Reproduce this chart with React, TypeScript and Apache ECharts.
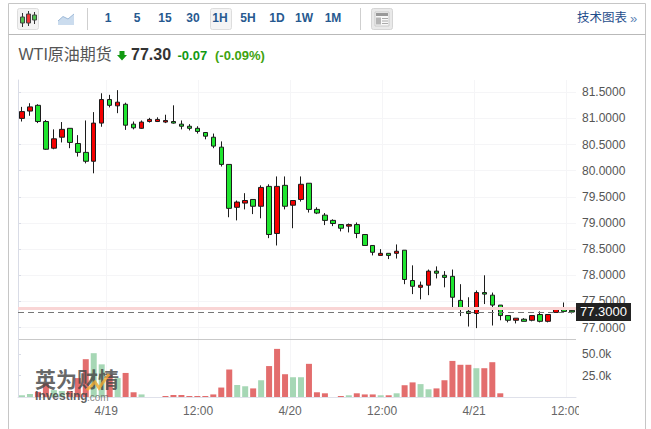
import React, { useEffect, useRef } from "react";
import * as echarts from "echarts";

const opens = [81.00,81.14,81.25,80.94,80.43,80.64,80.81,80.52,80.35,80.18,80.91,81.36,81.24,81.27,80.89,80.81,80.94,80.94,80.93,80.94,80.89,80.85,80.81,80.73,80.64,80.45,80.12,79.30,79.38,79.45,79.32,79.70,78.80,79.72,79.34,79.45,79.76,79.26,79.15,79.05,78.97,78.94,78.97,78.78,78.57,78.38,78.42,78.42,78.48,77.90,77.77,77.81,78.08,78.00,77.98,77.52,77.31,77.27,77.67,77.62,77.43,77.23,77.14,77.16,77.14,77.25,77.12,77.29,77.35,77.33];
const closes = [81.13,81.22,80.94,80.41,80.61,80.79,80.54,80.35,80.18,80.91,81.36,81.25,81.31,80.87,80.82,80.93,80.98,80.98,80.96,80.91,80.85,80.81,80.75,80.66,80.47,80.12,79.28,79.40,79.43,79.32,79.68,78.78,79.70,79.32,79.43,79.74,79.26,79.19,79.05,78.99,78.90,78.97,78.80,78.57,78.44,78.42,78.38,78.46,77.92,77.79,77.81,78.08,78.04,77.96,77.58,77.35,77.27,77.67,77.64,77.43,77.23,77.14,77.18,77.12,77.23,77.12,77.25,77.35,77.31,77.30];
const lows = [80.94,81.05,80.91,80.40,80.41,80.54,80.43,80.27,80.14,79.95,80.84,81.21,81.10,80.78,80.79,80.80,80.92,80.93,80.91,80.90,80.79,80.77,80.71,80.60,80.43,80.08,79.11,79.05,79.26,79.17,79.09,78.71,78.57,79.26,78.90,79.41,79.20,79.17,78.96,78.94,78.84,78.82,78.71,78.57,78.38,78.38,78.31,78.32,77.83,77.64,77.54,77.62,77.94,77.77,77.35,77.22,77.02,76.99,77.45,77.04,77.14,77.10,77.08,77.12,77.12,77.10,77.10,77.29,77.31,77.27];
const highs = [81.22,81.29,81.27,80.97,80.79,80.93,80.81,80.68,80.96,81.12,81.48,81.45,81.54,81.30,80.94,80.96,81.01,81.02,81.07,81.25,80.96,80.89,80.85,80.73,80.71,80.56,80.12,79.43,79.57,79.45,79.72,79.74,79.89,79.89,79.43,79.89,79.76,79.30,79.19,79.07,78.97,78.99,79.01,78.78,78.57,78.50,78.42,78.59,78.48,78.19,77.88,78.11,78.17,78.08,78.11,77.83,77.58,77.71,78.00,77.67,77.43,77.23,77.18,77.18,77.23,77.31,77.25,77.37,77.48,77.37];
const volumes = [2,3.5,6,16,8,7,7,22,44,51,38,26,22,28,5.5,3,0,0,1.2,2.3,2.3,1.2,1.2,1.2,3,11,32,14,12.5,10,19.5,36,56,26.5,23,23,38.6,5.5,4.3,0,1.2,2,4.3,3,3,2,2,4.3,13.7,17,15,9,10,19.5,42,37.5,37.5,33.5,33.5,40.5,4.3,0,0,0,0,0,0,0,0,0];
const greenVolumeBars = [0,1,4,5,9,10,12,15,27,28,30,34,35,41,45,47,50,51,57];
const priceTicks = [77,77.5,78,78.5,79,79.5,80,80.5,81,81.5];
const volumeTicks = [25,50];
const timeTickHours = [11.5,23.5,35.5,47.5,59.5,71.5];
const timeTickLabels = ["4/19","12:00","4/20","12:00","4/21","12:00"];
const lastPrice = 77.30;
const previousClose = 77.37;
const intervals = [["1",108],["5",137],["15",165],["30",193],["1H",220],["5H",248],["1D",277],["1W",304],["1M",333]] as const;

const FONT = '"Liberation Sans", Arial, "Noto Sans CJK SC", sans-serif';
const CAT = opens.map((_, i) => String(i));
const GRID_LINE = "#f5f5f7";
const BLUE = "#27598f";

function text(x: number, y: number, t: string, style: any, extra: any = {}) {
  return { type: "text", x, y, z: 50, silent: true, style: { text: t, fontFamily: FONT, verticalAlign: "middle", ...style }, ...extra };
}
function rect(x: number, y: number, w: number, h: number, style: any, extra: any = {}) {
  return { type: "rect", z: 40, silent: true, shape: { x, y, width: w, height: h, ...(extra.shape || {}) }, style, ...(extra.z ? { z: extra.z } : {}) };
}
function line(x1: number, y1: number, x2: number, y2: number, stroke: string, lineWidth = 1) {
  return { type: "line", z: 40, silent: true, shape: { x1, y1, x2, y2 }, style: { stroke, lineWidth } };
}

const elements: any[] = [
  line(8.5, 3.5, 645.5, 3.5, "#c6c6c6"),
  line(8.5, 3.5, 8.5, 429, "#c6c6c6"),
  line(645.5, 3.5, 645.5, 429, "#c6c6c6"),
  line(8.5, 34.5, 645.5, 34.5, "#b9b9b9"),
  line(87.5, 8, 87.5, 30, "#cfcfcf"),
  line(360.5, 8, 360.5, 30, "#cfcfcf"),
  rect(17.5, 8.5, 21, 21, { fill: "#f3f3f3", stroke: "#dddddd" }, { shape: { r: 2 } }),
  line(22.5, 13, 22.5, 27, "#333"),
  line(28.5, 11, 28.5, 26, "#333"),
  line(34.5, 12, 34.5, 24, "#333"),
  rect(20.5, 17, 4, 6, { fill: "#4fc04f", stroke: "#444" }),
  rect(26.5, 14, 4, 9, { fill: "#e33", stroke: "#444" }),
  rect(32.5, 15, 4, 5, { fill: "#4fc04f", stroke: "#444" }),
  { type: "polygon", z: 40, silent: true, shape: { points: [[58, 21], [63, 16.5], [68, 19], [74, 14], [74, 25], [58, 25]] }, style: { fill: "#cbdcee" } },
  { type: "polyline", z: 41, silent: true, shape: { points: [[58, 21], [63, 16.5], [68, 19], [74, 14]] }, style: { stroke: "#9db9d8", fill: "none", lineWidth: 1 } },
  rect(210.5, 8.5, 21, 21, { fill: "#f4f4f4", stroke: "#dddddd" }, { shape: { r: 2 } }),
  ...intervals.map(([t, x]) => text(x, 18, t, { fontSize: 12, fontWeight: "bold", fill: BLUE, align: "center" })),
  rect(371.5, 8.5, 21, 21, { fill: "#e9e9e9", stroke: "#d5d5d5" }, { shape: { r: 2 } }),
  rect(375, 12, 14, 14, { fill: "#f8f8f8", stroke: "#c9c9c9" }),
  rect(376, 13, 12, 3, { fill: "#999" }),
  rect(376, 17.5, 5, 7, { fill: "#b5b5b5" }),
  rect(382, 18, 6, 1, { fill: "#aaa" }),
  rect(382, 20.5, 6, 1, { fill: "#aaa" }),
  rect(382, 23, 6, 1, { fill: "#aaa" }),
  text(577, 18, "技术图表", { fontSize: 12.5, fill: "#1f4e8c" }),
  text(630, 18.5, "»", { fontSize: 13, fill: "#5f86b8" }),
  text(18.5, 54.5, "WTI原油期货", { fontSize: 16, fill: "#555555" }),
  { type: "polygon", z: 40, silent: true, shape: { points: [[119.5, 51], [124.5, 51], [124.5, 55], [127, 55], [122, 60.5], [117, 55], [119.5, 55]] }, style: { fill: "#129a12" } },
  text(131, 54.5, "77.30", { fontSize: 16, fontWeight: "bold", fill: "#333333" }),
  text(177.5, 55, "-0.07", { fontSize: 13, fontWeight: "bold", fill: "#119911" }),
  text(215, 55, "(-0.09%)", { fontSize: 13, fontWeight: "bold", fill: "#3fa30f" }),
  rect(579, 403, 30, 18, { fill: "#ffffff" }, { z: 45 }),
  text(35, 379, "英为财情", { fontSize: 21, fontWeight: "bold", fill: "rgba(70,70,70,0.82)" }),
  { type: "polyline", z: 52, silent: true, shape: { points: [[87, 390], [95, 382], [99, 388], [109, 374]] }, style: { stroke: "rgba(240,170,50,0.8)", fill: "none", lineWidth: 3 } },
  text(35, 396, "Investing", { fontSize: 12, fontWeight: "bold", fill: "rgba(70,70,70,0.85)" }),
  text(87, 397, ".com", { fontSize: 10, fill: "rgba(110,110,110,0.85)" }),
];

export default function App() {
  const ref = useRef<HTMLDivElement>(null);
  useEffect(() => {
    document.body.style.margin = "0";
    const chart = echarts.init(ref.current!, undefined, { renderer: "svg" });
    const sharedTime = {
      type: "value",
      position: "bottom",
      min: 0,
      max: 72.8,
      axisLine: { show: false, onZero: false },
      splitLine: { show: true, lineStyle: { color: GRID_LINE, width: 1 } },
    };
    chart.setOption({
      animation: false,
      textStyle: { fontFamily: FONT },
      grid: [
        { left: 18, right: 75, top: 80, height: 259 },
        { left: 18, right: 75, top: 339, height: 58 },
      ],
      xAxis: [
        { type: "category", gridIndex: 0, data: CAT, show: false },
        { type: "category", gridIndex: 1, data: CAT, show: false },
        { ...sharedTime, gridIndex: 0, axisTick: { show: false, customValues: timeTickHours }, axisLabel: { show: false, customValues: timeTickHours } },
        {
          ...sharedTime,
          gridIndex: 1,
          axisLine: { show: true, onZero: false, lineStyle: { color: "#dfe1ea" } },
          axisTick: { show: false, customValues: timeTickHours },
          axisLabel: {
            show: true,
            customValues: timeTickHours,
            margin: 8,
            fontSize: 12,
            color: "#666666",
            fontFamily: FONT,
            formatter: (v: number) => timeTickLabels[timeTickHours.indexOf(v)] ?? "",
          },
        },
      ],
      yAxis: [
        {
          type: "value",
          gridIndex: 0,
          position: "right",
          min: 76.782,
          max: 81.734,
          axisLine: { show: true, lineStyle: { color: "#d9dce6" } },
          axisTick: { show: true, length: 3, lineStyle: { color: "#d9dce6" }, customValues: priceTicks },
          splitLine: { show: true, lineStyle: { color: GRID_LINE } },
          axisLabel: { customValues: priceTicks, margin: 6, fontSize: 12, color: "#555555", fontFamily: FONT, formatter: (v: number) => v.toFixed(4) },
        },
        {
          type: "value",
          gridIndex: 1,
          position: "right",
          min: 0,
          max: 67.5,
          axisLine: { show: true, lineStyle: { color: "#d9dce6" } },
          axisTick: { show: true, length: 3, lineStyle: { color: "#d9dce6" }, customValues: volumeTicks },
          splitLine: { show: false },
          axisLabel: { customValues: volumeTicks, margin: 6, fontSize: 12, color: "#555555", fontFamily: FONT, formatter: (v: number) => v.toFixed(1) + "k" },
        },
      ],
      series: [
        {
          type: "candlestick",
          xAxisIndex: 0,
          yAxisIndex: 0,
          barWidth: 5,
          data: opens.map((o, i) => [o, closes[i], lows[i], highs[i]]),
          itemStyle: { color: "#f40000", color0: "#1fe52f", borderColor: "#1c1c1c", borderColor0: "#1c1c1c", borderWidth: 1 },
          markLine: {
            silent: true,
            symbol: "none",
            animation: false,
            data: [
              { yAxis: previousClose, lineStyle: { color: "#f9d5d5", type: "solid", width: 3 }, label: { show: false } },
              {
                yAxis: lastPrice,
                lineStyle: { color: "#777777", type: [6, 4], width: 1 },
                label: {
                  show: true,
                  position: "end",
                  distance: 0,
                  formatter: () => lastPrice.toFixed(4),
                  backgroundColor: "#222222",
                  color: "#ffffff",
                  fontSize: 13,
                  fontFamily: FONT,
                  padding: [3, 4, 2, 4],
                },
              },
            ],
          },
        },
        {
          type: "bar",
          xAxisIndex: 1,
          yAxisIndex: 1,
          barWidth: 6,
          data: volumes.map((v, i) => ({
            value: v,
            itemStyle: { color: greenVolumeBars.includes(i) ? "#a6d7b5" : "#e36d6d" },
          })),
        },
      ],
      graphic: { elements: [
        line(19, 339.5, 576, 339.5, "#c9c9c9"),
        ...elements,
      ] },
    });
    return () => chart.dispose();
  }, []);
  return <div ref={ref} style={{ width: 651, height: 429 }} />;
}
